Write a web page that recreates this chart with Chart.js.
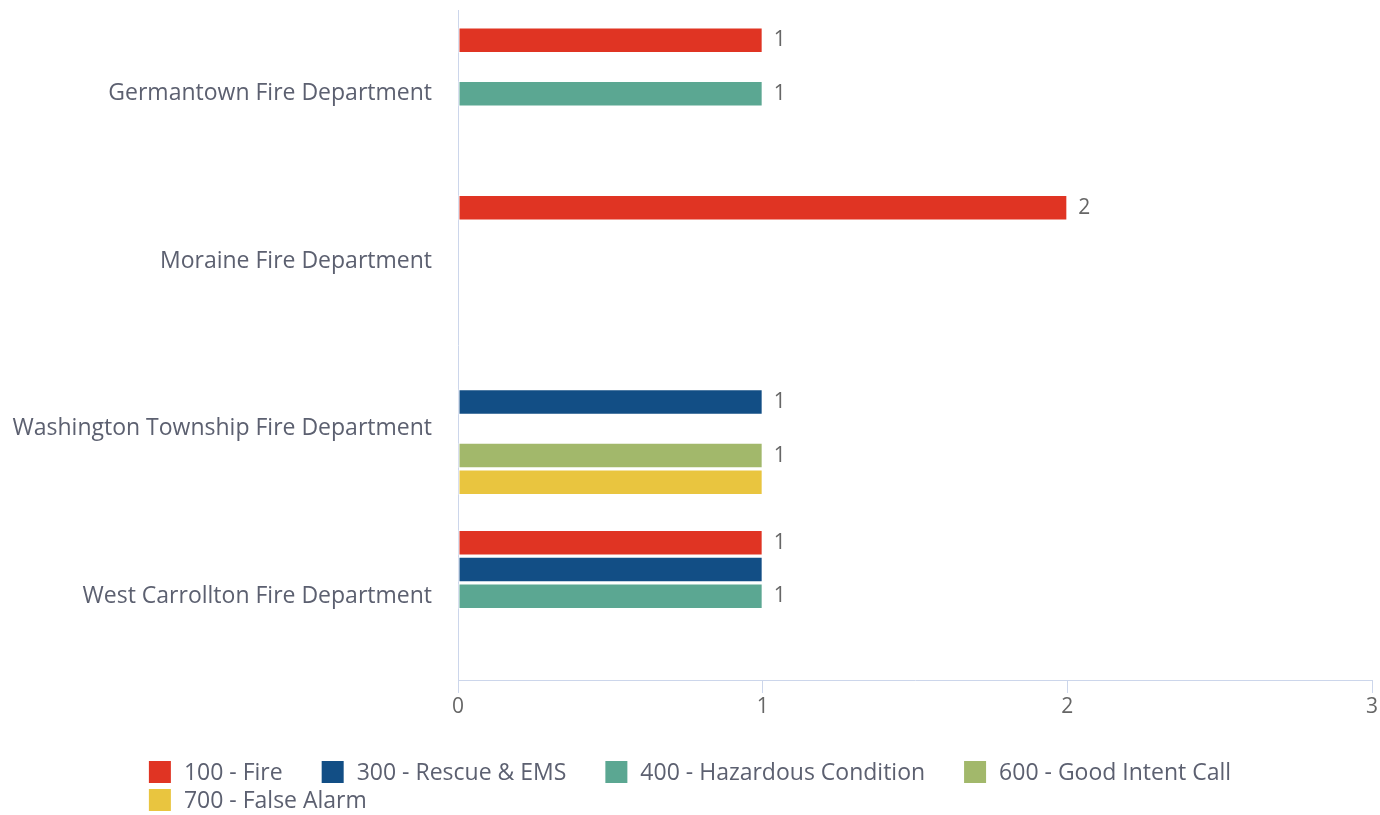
<!DOCTYPE html>
<html>
<head>
<meta charset="utf-8">
<script src="https://cdn.jsdelivr.net/npm/chart.js@4/dist/chart.umd.min.js"></script>
<style>
html,body{margin:0;padding:0;background:#fff;}
#wrap{position:relative;width:1380px;height:815px;}
</style>
</head>
<body>
<div id="wrap"><canvas id="c" width="1380" height="815"></canvas></div>
<script>
const categories = ["Germantown Fire Department","Moraine Fire Department","Washington Township Fire Department","West Carrollton Fire Department"];
const seriesNames = ["100 - Fire","300 - Rescue & EMS","400 - Hazardous Condition","600 - Good Intent Call","700 - False Alarm"];
const fire        = [1, 2, 0, 1];
const rescueEms   = [0, 0, 1, 1];
const hazardous   = [1, 0, 0, 1];
const goodIntent  = [0, 0, 1, 0];
const falseAlarm  = [0, 0, 1, 0];
const xTicks = [0, 1, 2, 3];
const seriesColors = ["#E03423","#124E85","#5BA792","#A2B86B","#E9C53F"];

const FONT = "'Open Sans', sans-serif";
const TEXT = "#5c6070";
const AXIS = "#ccd6eb";

const seriesValues = [fire, rescueEms, hazardous, goodIntent, falseAlarm];
const datasets = seriesValues.map((vals, i) => ({
  label: seriesNames[i],
  data: vals.map(v => v === 0 ? null : v),
  backgroundColor: seriesColors[i],
  borderColor: "#ffffff",
  borderWidth: 1,
  borderSkipped: false,
  categoryPercentage: 0.8,
  barPercentage: 0.95
}));

const labelPlugin = {
  id: "valueLabels",
  afterDatasetsDraw(chart) {
    const ctx = chart.ctx;
    const placed = [];
    ctx.save();
    ctx.font = "21px " + FONT;
    ctx.fillStyle = "#666666";
    ctx.textAlign = "left";
    ctx.textBaseline = "middle";
    chart.data.datasets.forEach((ds, di) => {
      const meta = chart.getDatasetMeta(di);
      meta.data.forEach((bar, j) => {
        const v = ds.data[j];
        if (v === null || v === undefined) return;
        const top = bar.y - 15, bot = bar.y + 15;
        if (placed.some(p => !(bot <= p.top || top >= p.bot) && Math.abs(p.x - bar.x) < 40)) return;
        placed.push({top, bot, x: bar.x});
        ctx.fillText(String(v), bar.x + 11, bar.y);
      });
    });
    ctx.restore();
  }
};

const legendPlugin = {
  id: "customLegend",
  afterDraw(chart) {
    const ctx = chart.ctx;
    ctx.save();
    ctx.font = "23px " + FONT;
    const box = 22, gapText = 13, gapItem = 39;
    const widths = seriesNames.map(n => box + gapText + ctx.measureText(n).width);
    const maxRow = 1200;
    const rows = [[]];
    let w = 0;
    widths.forEach((iw, i) => {
      const add = (rows[rows.length-1].length ? gapItem : 0) + iw;
      if (w + add > maxRow && rows[rows.length-1].length) { rows.push([i]); w = iw; }
      else { rows[rows.length-1].push(i); w += add; }
    });
    const rowW = rows[0].reduce((s, i, k) => s + widths[i] + (k ? gapItem : 0), 0);
    const startX = (chart.width - rowW) / 2;
    ctx.textBaseline = "middle";
    ctx.textAlign = "left";
    rows.forEach((row, r) => {
      const cy = 772 + r * 28;
      let x = startX;
      row.forEach(i => {
        ctx.fillStyle = seriesColors[i];
        ctx.fillRect(x, cy - 11, box, box);
        ctx.fillStyle = TEXT;
        ctx.fillText(seriesNames[i], x + box + gapText, cy + 1);
        x += widths[i] + gapItem;
      });
    });
    ctx.restore();
  }
};

new Chart(document.getElementById("c"), {
  type: "bar",
  data: { labels: categories, datasets },
  options: {
    indexAxis: "y",
    responsive: false,
    animation: false,
    layout: { padding: { top: 10, right: 8, left: 0, bottom: 0 } },
    plugins: { legend: { display: false }, tooltip: { enabled: false } },
    scales: {
      x: {
        min: xTicks[0], max: xTicks[xTicks.length-1],
        afterBuildTicks(scale) { scale.ticks = xTicks.map(v => ({ value: v })); },
        afterFit(scale) { scale.height = 135; scale.paddingLeft = 0; scale.paddingRight = 0; },
        grid: { drawOnChartArea: false, drawTicks: true, tickLength: 13, color: AXIS, lineWidth: 1 },
        border: { display: true, color: AXIS, width: 1 },
        ticks: { font: { family: FONT, size: 21 }, color: "#666666", padding: 1, maxRotation: 0 }
      },
      y: {
        afterFit(scale) { scale.width = 458; scale.paddingTop = 0; scale.paddingBottom = 0; },
        grid: { display: false, drawTicks: false },
        border: { display: true, color: AXIS, width: 1 },
        ticks: { font: { family: FONT, size: 23 }, color: TEXT, padding: 26 }
      }
    }
  },
  plugins: [labelPlugin, legendPlugin]
});
</script>
</body>
</html>
